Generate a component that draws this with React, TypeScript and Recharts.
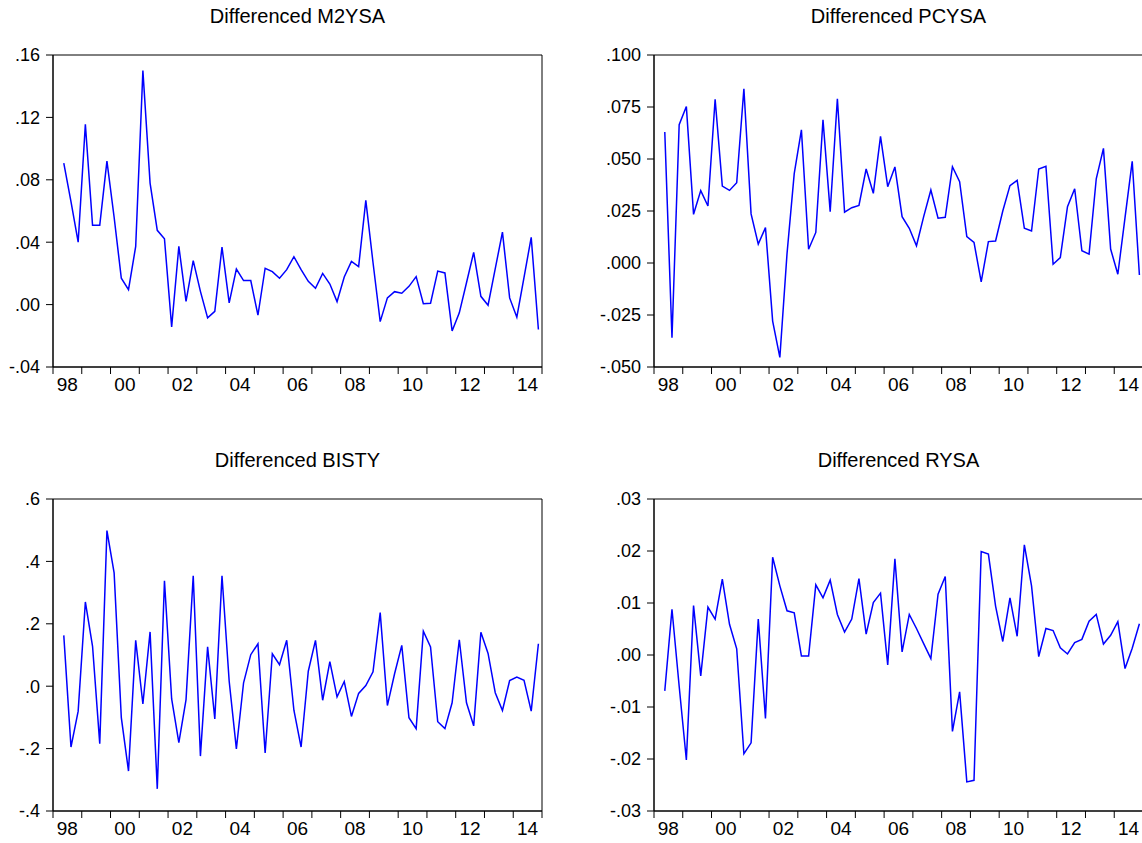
import React from 'react';
import { LineChart, Line, XAxis, YAxis, ReferenceArea } from 'recharts';

// Quarterly categories 1998Q2 .. 2014Q4
const quarters: string[] = [];
for (let yr = 1998; yr <= 2014; yr++) {
  for (let q = 1; q <= 4; q++) {
    if (!(yr === 1998 && q === 1)) quarters.push(`${yr}Q${q}`);
  }
}

const m2ysa = [
  0.0907, 0.066, 0.040, 0.1156, 0.0508, 0.0508, 0.092, 0.056, 0.0169, 0.0096,
  0.0373, 0.150, 0.0779, 0.0476, 0.0422, -0.0143, 0.0373, 0.0021, 0.0282, 0.0085,
  -0.0085, -0.0043, 0.0369, 0.0011, 0.0228, 0.0154, 0.0154, -0.0068, 0.0233, 0.0211,
  0.0169, 0.0224, 0.0307, 0.0224, 0.0149, 0.0105, 0.020, 0.0132, 0.0019, 0.0177,
  0.0277, 0.0243, 0.0668, 0.027, -0.0109, 0.0043, 0.0083, 0.0073, 0.0117, 0.0179,
  0.0006, 0.0009, 0.0215, 0.0203, -0.0169, -0.0053, 0.014, 0.0335, 0.0053, -0.0004,
  0.023, 0.0465, 0.0043, -0.0081, 0.0175, 0.0431, -0.016,
];

const pcysa = [
  0.063, -0.0359, 0.0665, 0.0752, 0.0234, 0.0348, 0.0274, 0.0787, 0.037, 0.0349,
  0.0386, 0.0838, 0.0236, 0.0091, 0.017, -0.0279, -0.0454, 0.0046, 0.043, 0.064,
  0.0066, 0.0147, 0.0688, 0.0247, 0.079, 0.0244, 0.0266, 0.0277, 0.0452, 0.0335,
  0.0609, 0.0367, 0.0462, 0.0223, 0.0167, 0.0083, 0.0223, 0.0351, 0.0215, 0.022,
  0.0463, 0.0391, 0.0127, 0.0099, -0.0091, 0.0103, 0.0106, 0.025, 0.0372, 0.0397,
  0.0167, 0.0154, 0.0452, 0.0465, -0.0006, 0.0026, 0.0271, 0.0357, 0.0059, 0.0043,
  0.0405, 0.0551, 0.0067, -0.0054, 0.0218, 0.0489, -0.0058,
];

const bisty = [
  0.163, -0.195, -0.080, 0.270, 0.128, -0.184, 0.4986, 0.363, -0.101, -0.272,
  0.147, -0.057, 0.174, -0.329, 0.338, -0.041, -0.181, -0.043, 0.354, -0.224,
  0.126, -0.105, 0.354, 0.016, -0.201, 0.011, 0.101, 0.136, -0.214, 0.104,
  0.069, 0.147, -0.077, -0.195, 0.048, 0.147, -0.045, 0.079, -0.034, 0.015,
  -0.097, -0.023, 0.002, 0.046, 0.236, -0.062, 0.040, 0.131, -0.101, -0.136,
  0.176, 0.126, -0.114, -0.136, -0.053, 0.149, -0.053, -0.127, 0.173, 0.105,
  -0.021, -0.078, 0.018, 0.029, 0.019, -0.080, 0.136,
];

const rysa = [
  -0.0069, 0.0088, -0.006, -0.0202, 0.0095, -0.004, 0.0092, 0.0069, 0.0146, 0.0059,
  0.0012, -0.019, -0.0169, 0.0069, -0.0122, 0.0188, 0.0133, 0.0085, 0.0081, -0.0002,
  -0.0002, 0.0135, 0.011, 0.0144, 0.0078, 0.0044, 0.0069, 0.0147, 0.004, 0.0101,
  0.0119, -0.0019, 0.0185, 0.0006, 0.0078, 0.0051, 0.0022, -0.0007, 0.0117, 0.0151,
  -0.0147, -0.0071, -0.0244, -0.0241, 0.0199, 0.0194, 0.0094, 0.0026, 0.011, 0.0036,
  0.0212, 0.0133, -0.0003, 0.0051, 0.0047, 0.0014, 0.0002, 0.0024, 0.003, 0.0065,
  0.0078, 0.0021, 0.0038, 0.0064, -0.0026, 0.0013, 0.006,
];

const m2Ticks = [-0.04, 0, 0.04, 0.08, 0.12, 0.16];
const m2TickLabels = ['-.04', '.00', '.04', '.08', '.12', '.16'];
const pcTicks = [-0.05, -0.025, 0, 0.025, 0.05, 0.075, 0.1];
const pcTickLabels = ['-.050', '-.025', '.000', '.025', '.050', '.075', '.100'];
const biTicks = [-0.4, -0.2, 0, 0.2, 0.4, 0.6];
const biTickLabels = ['-.4', '-.2', '.0', '.2', '.4', '.6'];
const ryTicks = [-0.03, -0.02, -0.01, 0, 0.01, 0.02, 0.03];
const ryTickLabels = ['-.03', '-.02', '-.01', '.00', '.01', '.02', '.03'];

const yearLabels = ['98', '00', '02', '04', '06', '08', '10', '12', '14'];
const labelYears = [1998, 2000, 2002, 2004, 2006, 2008, 2010, 2012, 2014];
const startYear = 1998;
const endYear = 2015;

const FONT = '"Liberation Sans", Arial, Helvetica, sans-serif';

// x position of a quarter: middle of the quarter
const quarterPos = (label: string) => {
  const yr = Number(label.slice(0, 4));
  const q = Number(label.slice(5));
  return yr + (q - 0.5) / 4;
};

// half-year ticks: integer -> tick mark, mid-year of labelled years -> text
const xTicks: number[] = [];
for (let t = startYear; t <= endYear; t += 0.5) xTicks.push(t);

const XTick = (props: any) => {
  const { x, y, payload } = props;
  const v = payload.value as number;
  if (Number.isInteger(v)) {
    return <line x1={x} x2={x} y1={y} y2={y + 7} stroke="#000" strokeWidth={1} />;
  }
  const yr = Math.floor(v);
  const idx = labelYears.indexOf(yr);
  if (idx < 0) return <g />;
  return (
    <text x={x} y={y + 24} textAnchor="middle" fontSize={19} fontFamily={FONT} fill="#000">
      {yearLabels[idx]}
    </text>
  );
};

type PanelProps = {
  title: string;
  values: number[];
  ticks: number[];
  tickLabels: string[];
  plotLeft: number;
  top: number;
};

const ML = 66;
const PW = 489;
const MR = 18;
const CW = ML + PW + MR;
const CH = 420;
const MT = 55;
const XH = 53;

function Panel({ title, values, ticks, tickLabels, plotLeft, top }: PanelProps) {
  const data = quarters.map((q, i) => ({ x: quarterPos(q), v: values[i] }));
  const yMin = ticks[0];
  const yMax = ticks[ticks.length - 1];
  return (
    <div style={{ position: 'absolute', left: plotLeft - ML, top, width: CW, height: CH }}>
      <svg width={CW} height={40} style={{ position: 'absolute', left: 0, top: 0 }}>
        <text x={ML + PW / 2} y={23} textAnchor="middle" fontSize={20} fontFamily={FONT} fill="#000">
          {title}
        </text>
      </svg>
      <div style={{ position: 'absolute', left: 0, top: 0 }}>
        <LineChart width={CW} height={CH} data={data} margin={{ top: MT, right: MR, bottom: 0, left: 0 }}>
          <XAxis
            dataKey="x"
            type="number"
            domain={[startYear, endYear]}
            ticks={xTicks}
            interval={0}
            height={XH}
            tickSize={0}
            tickMargin={0}
            tickLine={false}
            axisLine={{ stroke: '#000' }}
            tick={<XTick />}
            allowDataOverflow
          />
          <YAxis
            type="number"
            domain={[yMin, yMax]}
            ticks={ticks}
            interval={0}
            width={ML}
            tickSize={7}
            tickMargin={6}
            tickLine={{ stroke: '#000' }}
            axisLine={{ stroke: '#000' }}
            tick={{ fill: '#000', fontSize: 18, fontFamily: FONT }}
            tickFormatter={(v: number) => tickLabels[ticks.indexOf(v)] ?? ''}
            allowDataOverflow
          />
          <ReferenceArea x1={startYear} x2={endYear} y1={yMin} y2={yMax} fill="none" stroke="#000" strokeWidth={1} />
          <Line
            type="linear"
            dataKey="v"
            stroke="#0000ff"
            strokeWidth={1.5}
            dot={false}
            isAnimationActive={false}
          />
        </LineChart>
      </div>
    </div>
  );
}

export default function App() {
  return (
    <div
      style={{
        position: 'absolute',
        left: 0,
        top: 0,
        width: 1142,
        height: 843,
        overflow: 'hidden',
        background: '#fff',
        fontFamily: FONT,
      }}
    >
      <Panel title="Differenced M2YSA" values={m2ysa} ticks={m2Ticks} tickLabels={m2TickLabels} plotLeft={53} top={0} />
      <Panel title="Differenced PCYSA" values={pcysa} ticks={pcTicks} tickLabels={pcTickLabels} plotLeft={654} top={0} />
      <Panel title="Differenced BISTY" values={bisty} ticks={biTicks} tickLabels={biTickLabels} plotLeft={53} top={444} />
      <Panel title="Differenced RYSA" values={rysa} ticks={ryTicks} tickLabels={ryTickLabels} plotLeft={654} top={444} />
    </div>
  );
}
